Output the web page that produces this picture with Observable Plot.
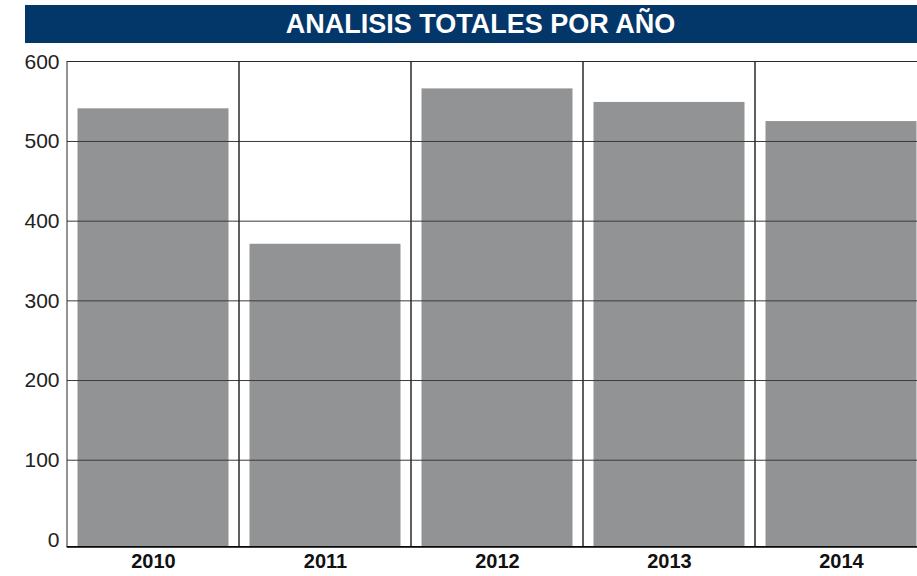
<!DOCTYPE html>
<html>
<head>
<meta charset="utf-8">
<script src="https://cdn.jsdelivr.net/npm/d3@7"></script>
<script src="https://cdn.jsdelivr.net/npm/@observablehq/plot@0.6"></script>
<style>
  html, body { margin: 0; padding: 0; background: #fff; overflow: hidden; width: 917px; height: 576px; }
  #title {
    font: bold 27px "Liberation Sans", Arial, sans-serif;
    margin: 5px 0 0 25px; width: 911px; height: 38px; line-height: 39px;
    background: #03376A; color: #fff; text-align: center;
    white-space: nowrap; overflow: hidden;
  }
  #chart svg { display: block; }
</style>
</head>
<body>
<div id="title">ANALISIS TOTALES POR AÑO</div>
<div id="chart"></div>
<script>
const years = ["2010", "2011", "2012", "2013", "2014"];
const totals = [541, 371, 566, 549, 525];
const yTicks = [0, 100, 200, 300, 400, 500, 600];
const gridValues = [100, 200, 300, 400, 500];

const data = years.map((y, i) => ({year: y, total: totals[i]}));

const chart = Plot.plot({
  width: 917,
  height: 533,
  marginLeft: 67,
  marginRight: -10,
  marginTop: 18.5,
  marginBottom: 29.5,
  style: {fontFamily: "'Liberation Sans', Arial, sans-serif", background: "#fff"},
  x: {domain: years, padding: 0, label: null},
  y: {domain: [0, 600], range: [496.4, 18.3], label: null},
  marks: [
    Plot.barY(data, {x: "year", y: "total", fill: "#929395", insetLeft: 10.5, insetRight: 10.5, insetBottom: -7}),
    Plot.ruleY(gridValues, {stroke: "#3a3a3a", strokeWidth: 1}),
    Plot.cell(years, {x: d => d, fill: "none", stroke: "#2a2a2a", strokeWidth: 1}),
    Plot.frame({anchor: "bottom", stroke: "#000", strokeWidth: 1.6}),
    Plot.axisY(yTicks, {tickSize: 0, tickPadding: 8, fontSize: 21, fill: "#222"}),
    Plot.axisX({tickSize: 0, tickPadding: 7, fontSize: 20, fontWeight: "bold", fill: "#111"})
  ]
});
document.getElementById("chart").appendChild(chart);
</script>
</body>
</html>
